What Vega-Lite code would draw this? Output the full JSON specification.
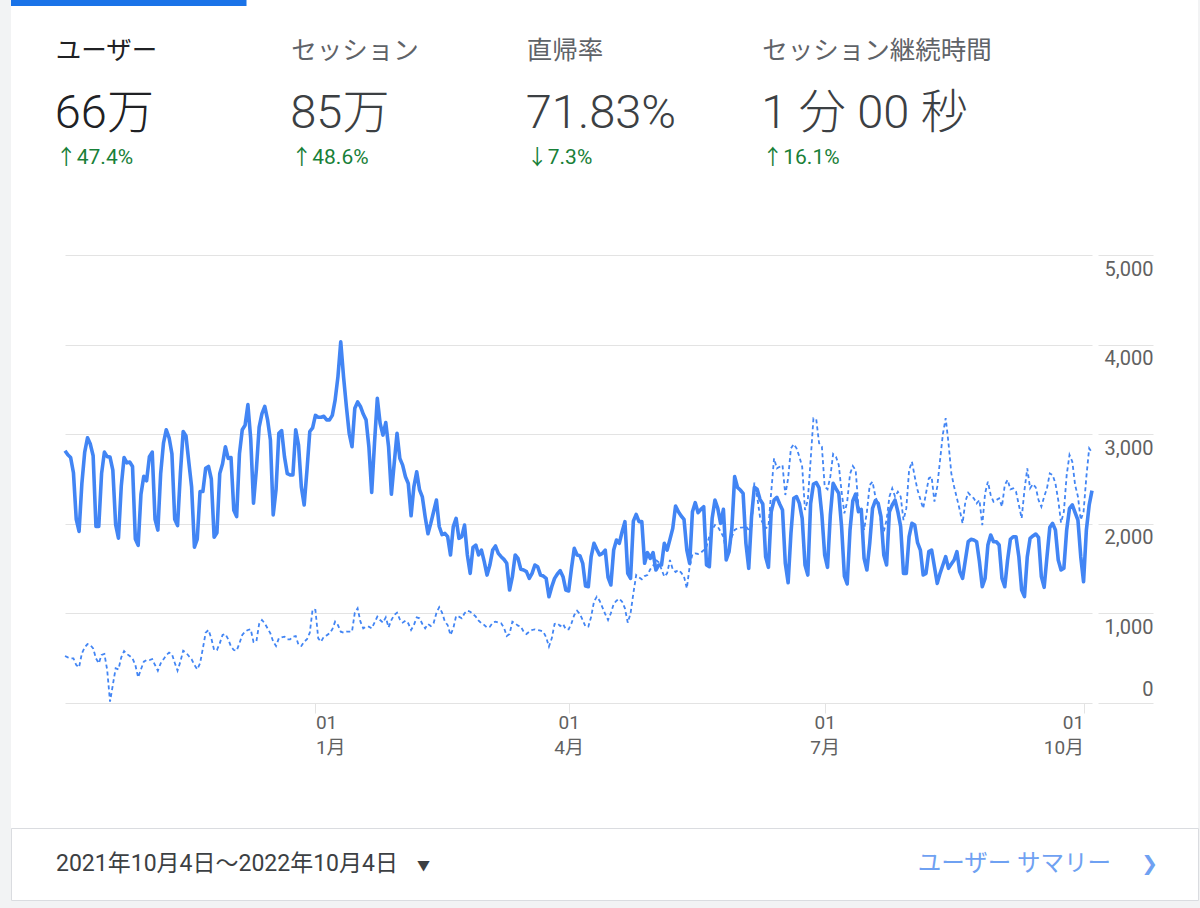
{
  "$schema": "https://vega.github.io/schema/vega-lite/v6.json",
  "background": "#f2f3f4",
  "padding": {"left": 10, "top": 0, "right": 3, "bottom": 8},
  "spacing": 0,
  "bounds": "flush",
  "config": {
    "font": "Roboto, 'Noto Sans CJK JP', sans-serif",
    "view": {"fill": "#ffffff", "stroke": null}
  },
  "datasets": {
    "kpi": [
      {"metric": "ユーザー", "value": "66万", "change": "↑47.4%", "selected": true},
      {"metric": "セッション", "value": "85万", "change": "↑48.6%", "selected": false},
      {"metric": "直帰率", "value": "71.83%", "change": "↓7.3%", "selected": false},
      {"metric": "セッション継続時間", "value": "1 分 00 秒", "change": "↑16.1%", "selected": false}
    ],
    "footer": [
      {"side": "left", "text": "2021年10月4日～2022年10月4日"},
      {"side": "right", "text": "ユーザー サマリー"}
    ],
    "daily": [
      {"date": "2021-10-04", "users": 2816, "prev": 525},
      {"date": "2021-10-05", "users": 2770, "prev": 510},
      {"date": "2021-10-06", "users": 2740, "prev": 498},
      {"date": "2021-10-07", "users": 2570, "prev": 498},
      {"date": "2021-10-08", "users": 2050, "prev": 424},
      {"date": "2021-10-09", "users": 1915, "prev": 398},
      {"date": "2021-10-10", "users": 2450, "prev": 554},
      {"date": "2021-10-11", "users": 2800, "prev": 621},
      {"date": "2021-10-12", "users": 2960, "prev": 658},
      {"date": "2021-10-13", "users": 2890, "prev": 647},
      {"date": "2021-10-14", "users": 2760, "prev": 610},
      {"date": "2021-10-15", "users": 1970, "prev": 498},
      {"date": "2021-10-16", "users": 1970, "prev": 443},
      {"date": "2021-10-17", "users": 2560, "prev": 536},
      {"date": "2021-10-18", "users": 2800, "prev": 547},
      {"date": "2021-10-19", "users": 2750, "prev": 368},
      {"date": "2021-10-20", "users": 2745, "prev": 15},
      {"date": "2021-10-21", "users": 2600, "prev": 201},
      {"date": "2021-10-22", "users": 1990, "prev": 387},
      {"date": "2021-10-23", "users": 1840, "prev": 376},
      {"date": "2021-10-24", "users": 2420, "prev": 510},
      {"date": "2021-10-25", "users": 2740, "prev": 580},
      {"date": "2021-10-26", "users": 2680, "prev": 547},
      {"date": "2021-10-27", "users": 2690, "prev": 525},
      {"date": "2021-10-28", "users": 2640, "prev": 498},
      {"date": "2021-10-29", "users": 1830, "prev": 424},
      {"date": "2021-10-30", "users": 1760, "prev": 286},
      {"date": "2021-10-31", "users": 2330, "prev": 376},
      {"date": "2021-11-01", "users": 2530, "prev": 461},
      {"date": "2021-11-02", "users": 2480, "prev": 480},
      {"date": "2021-11-03", "users": 2750, "prev": 480},
      {"date": "2021-11-04", "users": 2800, "prev": 491},
      {"date": "2021-11-05", "users": 2050, "prev": 424},
      {"date": "2021-11-06", "users": 1930, "prev": 361},
      {"date": "2021-11-07", "users": 2560, "prev": 443},
      {"date": "2021-11-08", "users": 2900, "prev": 487},
      {"date": "2021-11-09", "users": 3050, "prev": 536},
      {"date": "2021-11-10", "users": 2960, "prev": 562},
      {"date": "2021-11-11", "users": 2780, "prev": 547},
      {"date": "2021-11-12", "users": 2050, "prev": 450},
      {"date": "2021-11-13", "users": 1980, "prev": 361},
      {"date": "2021-11-14", "users": 2560, "prev": 461},
      {"date": "2021-11-15", "users": 3030, "prev": 584},
      {"date": "2021-11-16", "users": 2980, "prev": 562},
      {"date": "2021-11-17", "users": 2690, "prev": 525},
      {"date": "2021-11-18", "users": 2410, "prev": 487},
      {"date": "2021-11-19", "users": 1740, "prev": 424},
      {"date": "2021-11-20", "users": 1830, "prev": 376},
      {"date": "2021-11-21", "users": 2360, "prev": 443},
      {"date": "2021-11-22", "users": 2360, "prev": 610},
      {"date": "2021-11-23", "users": 2620, "prev": 785},
      {"date": "2021-11-24", "users": 2640, "prev": 815},
      {"date": "2021-11-25", "users": 2500, "prev": 722},
      {"date": "2021-11-26", "users": 1850, "prev": 591},
      {"date": "2021-11-27", "users": 1900, "prev": 591},
      {"date": "2021-11-28", "users": 2560, "prev": 666},
      {"date": "2021-11-29", "users": 2670, "prev": 759},
      {"date": "2021-11-30", "users": 2860, "prev": 770},
      {"date": "2021-12-01", "users": 2730, "prev": 711},
      {"date": "2021-12-02", "users": 2740, "prev": 629},
      {"date": "2021-12-03", "users": 2150, "prev": 591},
      {"date": "2021-12-04", "users": 2080, "prev": 584},
      {"date": "2021-12-05", "users": 2780, "prev": 666},
      {"date": "2021-12-06", "users": 3050, "prev": 759},
      {"date": "2021-12-07", "users": 3100, "prev": 796},
      {"date": "2021-12-08", "users": 3330, "prev": 815},
      {"date": "2021-12-09", "users": 2950, "prev": 822},
      {"date": "2021-12-10", "users": 2230, "prev": 681},
      {"date": "2021-12-11", "users": 2600, "prev": 684},
      {"date": "2021-12-12", "users": 3080, "prev": 882},
      {"date": "2021-12-13", "users": 3230, "prev": 926},
      {"date": "2021-12-14", "users": 3310, "prev": 889},
      {"date": "2021-12-15", "users": 3160, "prev": 833},
      {"date": "2021-12-16", "users": 2935, "prev": 777},
      {"date": "2021-12-17", "users": 2100, "prev": 684},
      {"date": "2021-12-18", "users": 2380, "prev": 636},
      {"date": "2021-12-19", "users": 3010, "prev": 722},
      {"date": "2021-12-20", "users": 3040, "prev": 733},
      {"date": "2021-12-21", "users": 2750, "prev": 740},
      {"date": "2021-12-22", "users": 2560, "prev": 711},
      {"date": "2021-12-23", "users": 2545, "prev": 711},
      {"date": "2021-12-24", "users": 2545, "prev": 740},
      {"date": "2021-12-25", "users": 3050, "prev": 748},
      {"date": "2021-12-26", "users": 2880, "prev": 647},
      {"date": "2021-12-27", "users": 2410, "prev": 636},
      {"date": "2021-12-28", "users": 2210, "prev": 684},
      {"date": "2021-12-29", "users": 2600, "prev": 711},
      {"date": "2021-12-30", "users": 3030, "prev": 785},
      {"date": "2021-12-31", "users": 3070, "prev": 1045},
      {"date": "2022-01-01", "users": 3210, "prev": 1038},
      {"date": "2022-01-02", "users": 3190, "prev": 722},
      {"date": "2022-01-03", "users": 3190, "prev": 684},
      {"date": "2022-01-04", "users": 3200, "prev": 740},
      {"date": "2022-01-05", "users": 3160, "prev": 755},
      {"date": "2022-01-06", "users": 3160, "prev": 777},
      {"date": "2022-01-07", "users": 3210, "prev": 822},
      {"date": "2022-01-08", "users": 3380, "prev": 908},
      {"date": "2022-01-09", "users": 3640, "prev": 870},
      {"date": "2022-01-10", "users": 4030, "prev": 796},
      {"date": "2022-01-11", "users": 3640, "prev": 785},
      {"date": "2022-01-12", "users": 3310, "prev": 796},
      {"date": "2022-01-13", "users": 3010, "prev": 796},
      {"date": "2022-01-14", "users": 2860, "prev": 796},
      {"date": "2022-01-15", "users": 3290, "prev": 1008},
      {"date": "2022-01-16", "users": 3360, "prev": 1056},
      {"date": "2022-01-17", "users": 3310, "prev": 908},
      {"date": "2022-01-18", "users": 3225, "prev": 833},
      {"date": "2022-01-19", "users": 3160, "prev": 852},
      {"date": "2022-01-20", "users": 2860, "prev": 852},
      {"date": "2022-01-21", "users": 2350, "prev": 833},
      {"date": "2022-01-22", "users": 2900, "prev": 897},
      {"date": "2022-01-23", "users": 3400, "prev": 963},
      {"date": "2022-01-24", "users": 3120, "prev": 926},
      {"date": "2022-01-25", "users": 2990, "prev": 897},
      {"date": "2022-01-26", "users": 3130, "prev": 956},
      {"date": "2022-01-27", "users": 2860, "prev": 844},
      {"date": "2022-01-28", "users": 2330, "prev": 926},
      {"date": "2022-01-29", "users": 2675, "prev": 982},
      {"date": "2022-01-30", "users": 3010, "prev": 1008},
      {"date": "2022-01-31", "users": 2730, "prev": 934},
      {"date": "2022-02-01", "users": 2655, "prev": 897},
      {"date": "2022-02-02", "users": 2525, "prev": 919},
      {"date": "2022-02-03", "users": 2450, "prev": 889},
      {"date": "2022-02-04", "users": 2090, "prev": 815},
      {"date": "2022-02-05", "users": 2415, "prev": 870},
      {"date": "2022-02-06", "users": 2580, "prev": 956},
      {"date": "2022-02-07", "users": 2380, "prev": 945},
      {"date": "2022-02-08", "users": 2300, "prev": 882},
      {"date": "2022-02-09", "users": 2080, "prev": 833},
      {"date": "2022-02-10", "users": 1890, "prev": 882},
      {"date": "2022-02-11", "users": 2005, "prev": 859},
      {"date": "2022-02-12", "users": 2135, "prev": 889},
      {"date": "2022-02-13", "users": 2265, "prev": 1005},
      {"date": "2022-02-14", "users": 1970, "prev": 1070},
      {"date": "2022-02-15", "users": 1880, "prev": 1010},
      {"date": "2022-02-16", "users": 1893, "prev": 910},
      {"date": "2022-02-17", "users": 1856, "prev": 870},
      {"date": "2022-02-18", "users": 1652, "prev": 759},
      {"date": "2022-02-19", "users": 1968, "prev": 833},
      {"date": "2022-02-20", "users": 2061, "prev": 971},
      {"date": "2022-02-21", "users": 1838, "prev": 963},
      {"date": "2022-02-22", "users": 1856, "prev": 945},
      {"date": "2022-02-23", "users": 1986, "prev": 1001},
      {"date": "2022-02-24", "users": 1652, "prev": 1030},
      {"date": "2022-02-25", "users": 1447, "prev": 1019},
      {"date": "2022-02-26", "users": 1737, "prev": 993},
      {"date": "2022-02-27", "users": 1763, "prev": 963},
      {"date": "2022-02-28", "users": 1652, "prev": 919},
      {"date": "2022-03-01", "users": 1707, "prev": 889},
      {"date": "2022-03-02", "users": 1577, "prev": 870},
      {"date": "2022-03-03", "users": 1428, "prev": 841},
      {"date": "2022-03-04", "users": 1540, "prev": 852},
      {"date": "2022-03-05", "users": 1707, "prev": 897},
      {"date": "2022-03-06", "users": 1752, "prev": 908},
      {"date": "2022-03-07", "users": 1670, "prev": 897},
      {"date": "2022-03-08", "users": 1633, "prev": 889},
      {"date": "2022-03-09", "users": 1603, "prev": 841},
      {"date": "2022-03-10", "users": 1559, "prev": 748},
      {"date": "2022-03-11", "users": 1261, "prev": 770},
      {"date": "2022-03-12", "users": 1410, "prev": 908},
      {"date": "2022-03-13", "users": 1652, "prev": 889},
      {"date": "2022-03-14", "users": 1614, "prev": 863},
      {"date": "2022-03-15", "users": 1492, "prev": 852},
      {"date": "2022-03-16", "users": 1484, "prev": 796},
      {"date": "2022-03-17", "users": 1466, "prev": 770},
      {"date": "2022-03-18", "users": 1391, "prev": 796},
      {"date": "2022-03-19", "users": 1447, "prev": 815},
      {"date": "2022-03-20", "users": 1540, "prev": 822},
      {"date": "2022-03-21", "users": 1521, "prev": 815},
      {"date": "2022-03-22", "users": 1428, "prev": 807},
      {"date": "2022-03-23", "users": 1417, "prev": 796},
      {"date": "2022-03-24", "users": 1391, "prev": 733},
      {"date": "2022-03-25", "users": 1187, "prev": 629},
      {"date": "2022-03-26", "users": 1298, "prev": 722},
      {"date": "2022-03-27", "users": 1391, "prev": 882},
      {"date": "2022-03-28", "users": 1440, "prev": 889},
      {"date": "2022-03-29", "users": 1477, "prev": 859},
      {"date": "2022-03-30", "users": 1410, "prev": 882},
      {"date": "2022-03-31", "users": 1261, "prev": 822},
      {"date": "2022-04-01", "users": 1250, "prev": 822},
      {"date": "2022-04-02", "users": 1503, "prev": 889},
      {"date": "2022-04-03", "users": 1726, "prev": 982},
      {"date": "2022-04-04", "users": 1652, "prev": 1030},
      {"date": "2022-04-05", "users": 1644, "prev": 993},
      {"date": "2022-04-06", "users": 1559, "prev": 926},
      {"date": "2022-04-07", "users": 1306, "prev": 852},
      {"date": "2022-04-08", "users": 1298, "prev": 852},
      {"date": "2022-04-09", "users": 1633, "prev": 963},
      {"date": "2022-04-10", "users": 1782, "prev": 1131},
      {"date": "2022-04-11", "users": 1715, "prev": 1187},
      {"date": "2022-04-12", "users": 1652, "prev": 1142},
      {"date": "2022-04-13", "users": 1670, "prev": 1068},
      {"date": "2022-04-14", "users": 1707, "prev": 993},
      {"date": "2022-04-15", "users": 1402, "prev": 926},
      {"date": "2022-04-16", "users": 1317, "prev": 1001},
      {"date": "2022-04-17", "users": 1707, "prev": 1105},
      {"date": "2022-04-18", "users": 1819, "prev": 1142},
      {"date": "2022-04-19", "users": 1782, "prev": 1164},
      {"date": "2022-04-20", "users": 1912, "prev": 1131},
      {"date": "2022-04-21", "users": 2024, "prev": 1056},
      {"date": "2022-04-22", "users": 1447, "prev": 897},
      {"date": "2022-04-23", "users": 1391, "prev": 1001},
      {"date": "2022-04-24", "users": 2030, "prev": 1224},
      {"date": "2022-04-25", "users": 2105, "prev": 1428},
      {"date": "2022-04-26", "users": 2024, "prev": 1402},
      {"date": "2022-04-27", "users": 2024, "prev": 1380},
      {"date": "2022-04-28", "users": 1559, "prev": 1417},
      {"date": "2022-04-29", "users": 1678, "prev": 1428},
      {"date": "2022-04-30", "users": 1614, "prev": 1492},
      {"date": "2022-05-01", "users": 1678, "prev": 1529},
      {"date": "2022-05-02", "users": 1484, "prev": 1596},
      {"date": "2022-05-03", "users": 1540, "prev": 1570},
      {"date": "2022-05-04", "users": 1540, "prev": 1492},
      {"date": "2022-05-05", "users": 1782, "prev": 1410},
      {"date": "2022-05-06", "users": 1707, "prev": 1447},
      {"date": "2022-05-07", "users": 1826, "prev": 1596},
      {"date": "2022-05-08", "users": 1949, "prev": 1492},
      {"date": "2022-05-09", "users": 2199, "prev": 1462},
      {"date": "2022-05-10", "users": 2135, "prev": 1484},
      {"date": "2022-05-11", "users": 2087, "prev": 1455},
      {"date": "2022-05-12", "users": 2050, "prev": 1410},
      {"date": "2022-05-13", "users": 1707, "prev": 1280},
      {"date": "2022-05-14", "users": 1559, "prev": 1521},
      {"date": "2022-05-15", "users": 2135, "prev": 1663},
      {"date": "2022-05-16", "users": 2236, "prev": 1670},
      {"date": "2022-05-17", "users": 2124, "prev": 1663},
      {"date": "2022-05-18", "users": 2161, "prev": 1678},
      {"date": "2022-05-19", "users": 2191, "prev": 1707},
      {"date": "2022-05-20", "users": 1540, "prev": 1745},
      {"date": "2022-05-21", "users": 1521, "prev": 1864},
      {"date": "2022-05-22", "users": 2061, "prev": 1931},
      {"date": "2022-05-23", "users": 2265, "prev": 1986},
      {"date": "2022-05-24", "users": 2172, "prev": 1968},
      {"date": "2022-05-25", "users": 2005, "prev": 1912},
      {"date": "2022-05-26", "users": 2161, "prev": 1856},
      {"date": "2022-05-27", "users": 1596, "prev": 1689},
      {"date": "2022-05-28", "users": 1689, "prev": 1707},
      {"date": "2022-05-29", "users": 1949, "prev": 1856},
      {"date": "2022-05-30", "users": 2526, "prev": 1931},
      {"date": "2022-05-31", "users": 2407, "prev": 1949},
      {"date": "2022-06-01", "users": 2377, "prev": 1957},
      {"date": "2022-06-02", "users": 2340, "prev": 1960},
      {"date": "2022-06-03", "users": 1782, "prev": 1975},
      {"date": "2022-06-04", "users": 1503, "prev": 1931},
      {"date": "2022-06-05", "users": 2080, "prev": 1968},
      {"date": "2022-06-06", "users": 2407, "prev": 2459},
      {"date": "2022-06-07", "users": 2385, "prev": 2303},
      {"date": "2022-06-08", "users": 2273, "prev": 2079},
      {"date": "2022-06-09", "users": 2221, "prev": 2005},
      {"date": "2022-06-10", "users": 1633, "prev": 1949},
      {"date": "2022-06-11", "users": 1514, "prev": 1968},
      {"date": "2022-06-12", "users": 2135, "prev": 2358},
      {"date": "2022-06-13", "users": 2265, "prev": 2730},
      {"date": "2022-06-14", "users": 2295, "prev": 2619},
      {"date": "2022-06-15", "users": 2221, "prev": 2637},
      {"date": "2022-06-16", "users": 2154, "prev": 2656},
      {"date": "2022-06-17", "users": 1559, "prev": 2321},
      {"date": "2022-06-18", "users": 1343, "prev": 2507},
      {"date": "2022-06-19", "users": 1893, "prev": 2842},
      {"date": "2022-06-20", "users": 2284, "prev": 2890},
      {"date": "2022-06-21", "users": 2303, "prev": 2842},
      {"date": "2022-06-22", "users": 2228, "prev": 2749},
      {"date": "2022-06-23", "users": 2061, "prev": 2637},
      {"date": "2022-06-24", "users": 1540, "prev": 2154},
      {"date": "2022-06-25", "users": 1428, "prev": 2265},
      {"date": "2022-06-26", "users": 2228, "prev": 2712},
      {"date": "2022-06-27", "users": 2444, "prev": 3177},
      {"date": "2022-06-28", "users": 2459, "prev": 3166},
      {"date": "2022-06-29", "users": 2400, "prev": 2900},
      {"date": "2022-06-30", "users": 2100, "prev": 2861},
      {"date": "2022-07-01", "users": 1650, "prev": 2414},
      {"date": "2022-07-02", "users": 1514, "prev": 2385},
      {"date": "2022-07-03", "users": 2098, "prev": 2526},
      {"date": "2022-07-04", "users": 2451, "prev": 2779},
      {"date": "2022-07-05", "users": 2392, "prev": 2749},
      {"date": "2022-07-06", "users": 2340, "prev": 2656},
      {"date": "2022-07-07", "users": 1968, "prev": 2358},
      {"date": "2022-07-08", "users": 1417, "prev": 2117},
      {"date": "2022-07-09", "users": 1328, "prev": 2247},
      {"date": "2022-07-10", "users": 1931, "prev": 2556},
      {"date": "2022-07-11", "users": 2258, "prev": 2645},
      {"date": "2022-07-12", "users": 2332, "prev": 2600},
      {"date": "2022-07-13", "users": 2135, "prev": 2191},
      {"date": "2022-07-14", "users": 2161, "prev": 2117},
      {"date": "2022-07-15", "users": 1614, "prev": 1931},
      {"date": "2022-07-16", "users": 1484, "prev": 2135},
      {"date": "2022-07-17", "users": 1782, "prev": 2433},
      {"date": "2022-07-18", "users": 2172, "prev": 2470},
      {"date": "2022-07-19", "users": 2258, "prev": 2303},
      {"date": "2022-07-20", "users": 2228, "prev": 2228},
      {"date": "2022-07-21", "users": 2079, "prev": 2024},
      {"date": "2022-07-22", "users": 1652, "prev": 1912},
      {"date": "2022-07-23", "users": 1540, "prev": 2042},
      {"date": "2022-07-24", "users": 2135, "prev": 2303},
      {"date": "2022-07-25", "users": 2210, "prev": 2396},
      {"date": "2022-07-26", "users": 2265, "prev": 2303},
      {"date": "2022-07-27", "users": 2135, "prev": 2358},
      {"date": "2022-07-28", "users": 1968, "prev": 2303},
      {"date": "2022-07-29", "users": 1447, "prev": 2042},
      {"date": "2022-07-30", "users": 1447, "prev": 2172},
      {"date": "2022-07-31", "users": 1856, "prev": 2600},
      {"date": "2022-08-01", "users": 2005, "prev": 2693},
      {"date": "2022-08-02", "users": 1986, "prev": 2526},
      {"date": "2022-08-03", "users": 1789, "prev": 2377},
      {"date": "2022-08-04", "users": 1707, "prev": 2273},
      {"date": "2022-08-05", "users": 1428, "prev": 2172},
      {"date": "2022-08-06", "users": 1447, "prev": 2340},
      {"date": "2022-08-07", "users": 1689, "prev": 2507},
      {"date": "2022-08-08", "users": 1707, "prev": 2526},
      {"date": "2022-08-09", "users": 1521, "prev": 2247},
      {"date": "2022-08-10", "users": 1335, "prev": 2414},
      {"date": "2022-08-11", "users": 1447, "prev": 2712},
      {"date": "2022-08-12", "users": 1540, "prev": 3000},
      {"date": "2022-08-13", "users": 1633, "prev": 3180},
      {"date": "2022-08-14", "users": 1503, "prev": 2900},
      {"date": "2022-08-15", "users": 1551, "prev": 2563},
      {"date": "2022-08-16", "users": 1596, "prev": 2414},
      {"date": "2022-08-17", "users": 1689, "prev": 2284},
      {"date": "2022-08-18", "users": 1466, "prev": 2154},
      {"date": "2022-08-19", "users": 1391, "prev": 2005},
      {"date": "2022-08-20", "users": 1596, "prev": 2247},
      {"date": "2022-08-21", "users": 1800, "prev": 2347},
      {"date": "2022-08-22", "users": 1827, "prev": 2310},
      {"date": "2022-08-23", "users": 1819, "prev": 2284},
      {"date": "2022-08-24", "users": 1800, "prev": 2228},
      {"date": "2022-08-25", "users": 1577, "prev": 2265},
      {"date": "2022-08-26", "users": 1298, "prev": 1986},
      {"date": "2022-08-27", "users": 1391, "prev": 2340},
      {"date": "2022-08-28", "users": 1763, "prev": 2470},
      {"date": "2022-08-29", "users": 1875, "prev": 2321},
      {"date": "2022-08-30", "users": 1800, "prev": 2247},
      {"date": "2022-08-31", "users": 1800, "prev": 2265},
      {"date": "2022-09-01", "users": 1763, "prev": 2284},
      {"date": "2022-09-02", "users": 1391, "prev": 2191},
      {"date": "2022-09-03", "users": 1298, "prev": 2433},
      {"date": "2022-09-04", "users": 1596, "prev": 2489},
      {"date": "2022-09-05", "users": 1827, "prev": 2385},
      {"date": "2022-09-06", "users": 1856, "prev": 2396},
      {"date": "2022-09-07", "users": 1856, "prev": 2358},
      {"date": "2022-09-08", "users": 1633, "prev": 2210},
      {"date": "2022-09-09", "users": 1261, "prev": 2061},
      {"date": "2022-09-10", "users": 1187, "prev": 2377},
      {"date": "2022-09-11", "users": 1633, "prev": 2619},
      {"date": "2022-09-12", "users": 1838, "prev": 2396},
      {"date": "2022-09-13", "users": 1864, "prev": 2444},
      {"date": "2022-09-14", "users": 1886, "prev": 2407},
      {"date": "2022-09-15", "users": 1849, "prev": 2265},
      {"date": "2022-09-16", "users": 1410, "prev": 2191},
      {"date": "2022-09-17", "users": 1291, "prev": 2303},
      {"date": "2022-09-18", "users": 1633, "prev": 2396},
      {"date": "2022-09-19", "users": 1960, "prev": 2563},
      {"date": "2022-09-20", "users": 2005, "prev": 2545},
      {"date": "2022-09-21", "users": 1931, "prev": 2451},
      {"date": "2022-09-22", "users": 1596, "prev": 2265},
      {"date": "2022-09-23", "users": 1484, "prev": 2013},
      {"date": "2022-09-24", "users": 1503, "prev": 2135},
      {"date": "2022-09-25", "users": 1931, "prev": 2545},
      {"date": "2022-09-26", "users": 2172, "prev": 2768},
      {"date": "2022-09-27", "users": 2210, "prev": 2693},
      {"date": "2022-09-28", "users": 2124, "prev": 2433},
      {"date": "2022-09-29", "users": 2042, "prev": 2303},
      {"date": "2022-09-30", "users": 1633, "prev": 2042},
      {"date": "2022-10-01", "users": 1354, "prev": 2135},
      {"date": "2022-10-02", "users": 1931, "prev": 2526},
      {"date": "2022-10-03", "users": 2210, "prev": 2842},
      {"date": "2022-10-04", "users": 2370, "prev": 2794}
    ]
  },
  "vconcat": [
    {
      "width": 1187,
      "height": 6,
      "data": {"name": "kpi"},
      "transform": [{"filter": "datum.selected"}],
      "mark": {"type": "bar", "color": "#1a73e8"},
      "encoding": {
        "x": {
          "field": "metric",
          "type": "nominal",
          "scale": {
            "domain": ["ユーザー", "セッション", "直帰率", "セッション継続時間"],
            "range": [0, 942],
            "paddingInner": 0,
            "paddingOuter": 0
          },
          "axis": null
        }
      }
    },
    {
      "width": 1187,
      "height": 249,
      "data": {"name": "kpi"},
      "encoding": {
        "x": {
          "field": "metric",
          "type": "nominal",
          "scale": {
            "domain": ["ユーザー", "セッション", "直帰率", "セッション継続時間"],
            "range": [0, 942],
            "paddingInner": 0,
            "paddingOuter": 0
          },
          "axis": null
        }
      },
      "layer": [
        {
          "mark": {"type": "text", "align": "left", "baseline": "middle", "dx": -73, "dy": -80, "fontSize": 25.5},
          "encoding": {
            "text": {"field": "metric"},
            "color": {"condition": {"test": "datum.selected", "value": "#202124"}, "value": "#5f6368"}
          }
        },
        {
          "mark": {"type": "text", "align": "left", "baseline": "middle", "dx": -74, "dy": -17, "fontSize": 47, "fontWeight": 300},
          "encoding": {
            "text": {"field": "value"},
            "color": {"condition": {"test": "datum.selected", "value": "#202124"}, "value": "#3c4043"}
          }
        },
        {
          "mark": {"type": "text", "align": "left", "baseline": "middle", "dx": -73, "dy": 27, "fontSize": 21, "color": "#188038"},
          "encoding": {"text": {"field": "change"}}
        }
      ]
    },
    {
      "width": 1187,
      "height": 573,
      "data": {"name": "daily"},
      "transform": [{"fold": ["prev", "users"], "as": ["series", "count"]}],
      "encoding": {
        "x": {
          "field": "date",
          "type": "temporal",
          "scale": {
            "type": "utc",
            "domain": [
              {"year": 2021, "month": 10, "date": 4, "utc": true},
              {"year": 2022, "month": 10, "date": 4, "utc": true}
            ],
            "range": [54, 1081]
          },
          "axis": {
            "orient": "bottom",
            "offset": -125,
            "title": null,
            "domain": false,
            "grid": false,
            "values": [
              {"year": 2022, "month": 1, "date": 1, "utc": true},
              {"year": 2022, "month": 4, "date": 1, "utc": true},
              {"year": 2022, "month": 7, "date": 1, "utc": true},
              {"year": 2022, "month": 10, "date": 1, "utc": true}
            ],
            "tickSize": 10,
            "tickColor": "#e3e3e3",
            "labelPadding": 0,
            "labelFlush": 255,
            "labelExpr": "[utcFormat(datum.value, '%d'), utcFormat(datum.value, '%-m') + '月']",
            "labelFontSize": 19,
            "labelLineHeight": 25,
            "labelColor": "#616161"
          }
        },
        "y": {
          "field": "count",
          "type": "quantitative",
          "scale": {"domain": [0, 5000], "range": [448, 0], "nice": false},
          "axis": {
            "orient": "left",
            "offset": -1142,
            "title": null,
            "values": [0, 1000, 2000, 3000, 4000, 5000],
            "format": ",d",
            "domain": false,
            "grid": true,
            "gridColor": "#e3e3e3",
            "gridWidth": 1,
            "tickSize": 55,
            "tickColor": "#e3e3e3",
            "tickWidth": 1,
            "labelAlign": "right",
            "labelBaseline": {"condition": {"test": "datum.value === 0", "value": "line-bottom"}, "value": "line-top"},
            "labelLineHeight": 28,
            "labelPadding": -55,
            "labelFontSize": 20,
            "labelColor": "#616161"
          }
        }
      },
      "layer": [
        {
          "transform": [{"filter": "datum.series === 'prev'"}],
          "mark": {"type": "line", "color": "#4285f4", "strokeWidth": 1.8, "strokeDash": [4, 3]}
        },
        {
          "transform": [{"filter": "datum.series === 'users'"}],
          "mark": {"type": "line", "color": "#4285f4", "strokeWidth": 3.6, "strokeJoin": "round"}
        }
      ]
    },
    {
      "width": 1187,
      "height": 72,
      "view": {"stroke": "#dadce0", "fill": "#ffffff"},
      "data": {"name": "footer"},
      "encoding": {
        "x": {
          "field": "side",
          "type": "nominal",
          "scale": {"type": "point", "domain": ["left", "right"], "range": [45, 1147], "padding": 0},
          "axis": null
        }
      },
      "layer": [
        {
          "transform": [{"filter": "datum.side === 'left'"}],
          "mark": {"type": "text", "align": "left", "baseline": "middle", "fontSize": 23, "color": "#3c4043"},
          "encoding": {"text": {"field": "text"}}
        },
        {
          "transform": [{"filter": "datum.side === 'left'"}],
          "mark": {"type": "text", "align": "left", "baseline": "middle", "dx": 361, "dy": 2, "text": "▼", "fontSize": 13, "color": "#3c4043"}
        },
        {
          "transform": [{"filter": "datum.side === 'right'"}],
          "mark": {"type": "text", "align": "right", "baseline": "middle", "dx": -47, "fontSize": 23.5, "color": "#6fa1f2"},
          "encoding": {"text": {"field": "text"}}
        },
        {
          "transform": [{"filter": "datum.side === 'right'"}],
          "mark": {"type": "text", "align": "right", "baseline": "middle", "text": "❯", "font": "DejaVu Sans", "fontSize": 20, "color": "#6fa1f2"}
        }
      ]
    }
  ]
}
